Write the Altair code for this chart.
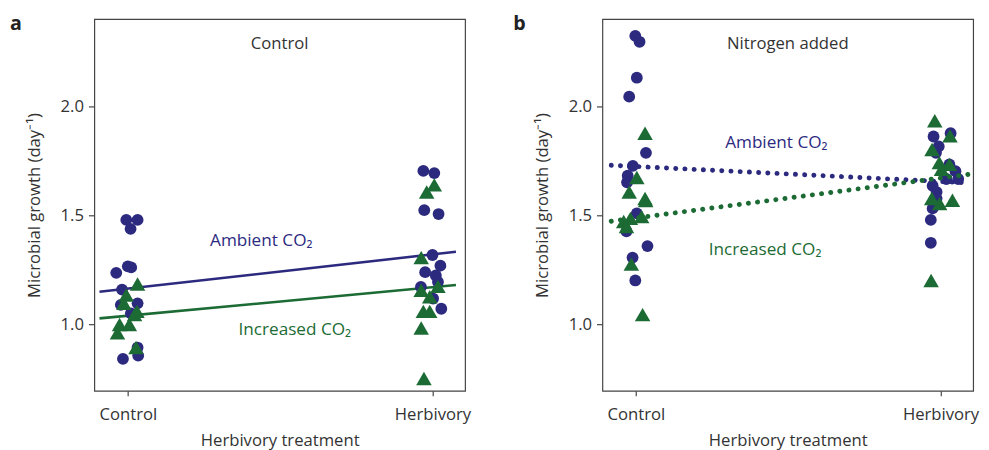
import altair as alt
import pandas as pd

BLUE = "#2c2a7f"
GREEN = "#1c6b34"
FONT = "Open Sans"

treatments = ["Control", "Herbivory"]

# ---- Panel a : Control ----
a_ctrl_amb_y = [1.479, 1.479, 1.438, 1.266, 1.261, 1.236, 1.159, 1.096, 1.089, 1.050, 0.893, 0.856, 0.841]
a_ctrl_amb_dx = [-0.005, 0.032, 0.009, 0.000, 0.011, -0.038, -0.019, 0.032, -0.023, 0.010, 0.032, 0.034, -0.016]
a_ctrl_inc_y = [1.185, 1.134, 1.096, 1.059, 1.044, 0.999, 0.999, 0.961, 0.893]
a_ctrl_inc_dx = [0.032, -0.005, -0.013, 0.030, 0.022, -0.027, 0.005, -0.034, 0.027]
a_herb_amb_y = [1.704, 1.694, 1.524, 1.506, 1.318, 1.269, 1.239, 1.224, 1.194, 1.171, 1.118, 1.071]
a_herb_amb_dx = [-0.030, 0.006, -0.027, 0.020, 0.000, 0.026, -0.024, 0.011, 0.018, -0.038, 0.002, 0.029]
a_herb_inc_y = [1.640, 1.607, 1.306, 1.156, 1.174, 1.126, 1.059, 1.059, 0.983, 0.751]
a_herb_inc_dx = [0.006, -0.019, -0.037, -0.037, 0.018, -0.009, -0.030, -0.009, -0.037, -0.028]

# ---- Panel b : Nitrogen added ----
b_ctrl_amb_y = [2.324, 2.297, 2.132, 2.045, 1.787, 1.727, 1.682, 1.652, 1.509, 1.427, 1.359, 1.306, 1.201]
b_ctrl_amb_dx = [-0.002, 0.012, 0.003, -0.022, 0.033, -0.010, -0.027, -0.029, 0.003, -0.031, 0.038, -0.011, -0.002]
b_ctrl_inc_y = [1.877, 1.674, 1.607, 1.577, 1.568, 1.472, 1.486, 1.494, 1.449, 1.276, 1.044]
b_ctrl_inc_dx = [0.030, 0.003, -0.022, 0.030, 0.032, -0.040, -0.018, 0.019, -0.031, -0.015, 0.022]
b_herb_amb_y = [1.862, 1.877, 1.817, 1.787, 1.734, 1.703, 1.667, 1.667, 1.636, 1.607, 1.577, 1.532, 1.479, 1.374]
b_herb_amb_dx = [-0.023, 0.033, -0.006, -0.015, 0.029, 0.049, 0.019, 0.058, -0.026, -0.013, -0.013, -0.026, -0.032, -0.032]
b_herb_inc_y = [1.934, 1.865, 1.802, 1.742, 1.734, 1.712, 1.577, 1.554, 1.569, 1.201]
b_herb_inc_dx = [-0.019, 0.031, -0.028, -0.004, 0.029, 0.003, -0.029, -0.003, 0.039, -0.031]

# fitted lines (endpoints)
a_line_x = [-0.093, 1.077]
a_amb_line_y = [1.149, 1.333]
a_inc_line_y = [1.027, 1.180]
b_line_x = [-0.081, 1.097]
b_amb_line_y = [1.730, 1.649]
b_inc_line_y = [1.473, 1.689]

# annotations: (x, y, text)
a_labels = [(0.438, 1.383, "Ambient CO₂", "amb"), (0.548, 0.973, "Increased CO₂", "inc")]
b_labels = [(0.461, 1.833, "Ambient CO₂", "amb"), (0.424, 1.342, "Increased CO₂", "inc")]

W, H = 378, 379
XDOM = [-0.11, 1.107]
YDOM = [0.694, 2.401]
FS = 17


def pts(ctrl_y, ctrl_dx, herb_y, herb_dx):
    xs = [0 + d for d in ctrl_dx] + [1 + d for d in herb_dx]
    return pd.DataFrame({"x": xs, "y": ctrl_y + herb_y})


def panel(letter, title, amb, inc, lx, amb_ly, inc_ly, labels, dotted, show_letter_x):
    xenc = alt.X("x:Q", scale=alt.Scale(domain=XDOM, nice=False, zero=False),
                 axis=alt.Axis(values=[0, 1], labelExpr="datum.value == 0 ? 'Control' : 'Herbivory'",
                               title="Herbivory treatment"))
    yenc = alt.Y("y:Q", scale=alt.Scale(domain=YDOM, nice=False, zero=False),
                 axis=alt.Axis(values=[1.0, 1.5, 2.0], format=".1f",
                               title="Microbial growth (day⁻¹)"))
    circ = alt.Chart(amb).mark_point(shape="circle", filled=True, size=145, opacity=1,
                                     color=BLUE).encode(x=xenc, y=yenc)
    tri = alt.Chart(inc).mark_point(shape="triangle-up", filled=True, size=250, opacity=1,
                                    color=GREEN).encode(x=xenc, y=yenc)
    ldf_a = pd.DataFrame({"x": lx, "y": amb_ly})
    ldf_i = pd.DataFrame({"x": lx, "y": inc_ly})
    if dotted:
        lkw = dict(strokeWidth=5, strokeDash=[0.1, 9.3], strokeCap="round")
    else:
        lkw = dict(strokeWidth=2.6)
    la = alt.Chart(ldf_a).mark_line(color=BLUE, **lkw).encode(x=xenc, y=yenc)
    li = alt.Chart(ldf_i).mark_line(color=GREEN, **lkw).encode(x=xenc, y=yenc)
    lab_df = pd.DataFrame({"x": [l[0] for l in labels], "y": [l[1] for l in labels],
                           "t": [l[2] for l in labels], "k": [l[3] for l in labels]})
    labs = alt.Chart(lab_df).mark_text(font=FONT, fontSize=17.5, align="center", baseline="middle").encode(
        x=xenc, y=yenc, text="t:N",
        color=alt.Color("k:N", scale=alt.Scale(domain=["amb", "inc"], range=[BLUE, GREEN]), legend=None))
    one = pd.DataFrame({"d": [0]})
    ttl = alt.Chart(one).mark_text(text=title, font=FONT, fontSize=FS, color="#333",
                                   align="center", baseline="middle").encode(
        x=alt.value(W / 2), y=alt.value(25))
    let = alt.Chart(one).mark_text(text=letter, font=FONT, fontSize=20, fontWeight="bold",
                                   color="#222", align="left", baseline="alphabetic").encode(
        x=alt.value(show_letter_x), y=alt.value(11))
    if dotted:
        layers = [circ, tri, la, li, labs, ttl, let]
    else:
        layers = [la, li, circ, tri, labs, ttl, let]
    return alt.layer(*layers).properties(width=W, height=H)


pa = panel("a", "Control",
           pts(a_ctrl_amb_y, a_ctrl_amb_dx, a_herb_amb_y, a_herb_amb_dx),
           pts(a_ctrl_inc_y, a_ctrl_inc_dx, a_herb_inc_y, a_herb_inc_dx),
           a_line_x, a_amb_line_y, a_inc_line_y, a_labels, False, -86)
pb = panel("b", "Nitrogen added",
           pts(b_ctrl_amb_y, b_ctrl_amb_dx, b_herb_amb_y, b_herb_amb_dx),
           pts(b_ctrl_inc_y, b_ctrl_inc_dx, b_herb_inc_y, b_herb_inc_dx),
           b_line_x, b_amb_line_y, b_inc_line_y, b_labels, True, -91)

chart = alt.hconcat(pa, pb, spacing=41).properties(
    padding={"left": 1, "top": 1, "right": 0, "bottom": 0}
).configure_view(stroke="#444", strokeWidth=1.2).configure_axis(
    domain=False, grid=False, labelFont=FONT, titleFont=FONT, labelFontSize=FS, titleFontSize=FS,
    labelColor="#333", titleColor="#333", titleFontWeight="normal", tickColor="#444", tickWidth=1.2
).configure_axisY(tickSize=6, labelPadding=5, titlePadding=17).configure_axisX(
    tickSize=5, labelPadding=11, titlePadding=11)

chart.save("out.html", embed_options={"renderer": "svg", "actions": False})
